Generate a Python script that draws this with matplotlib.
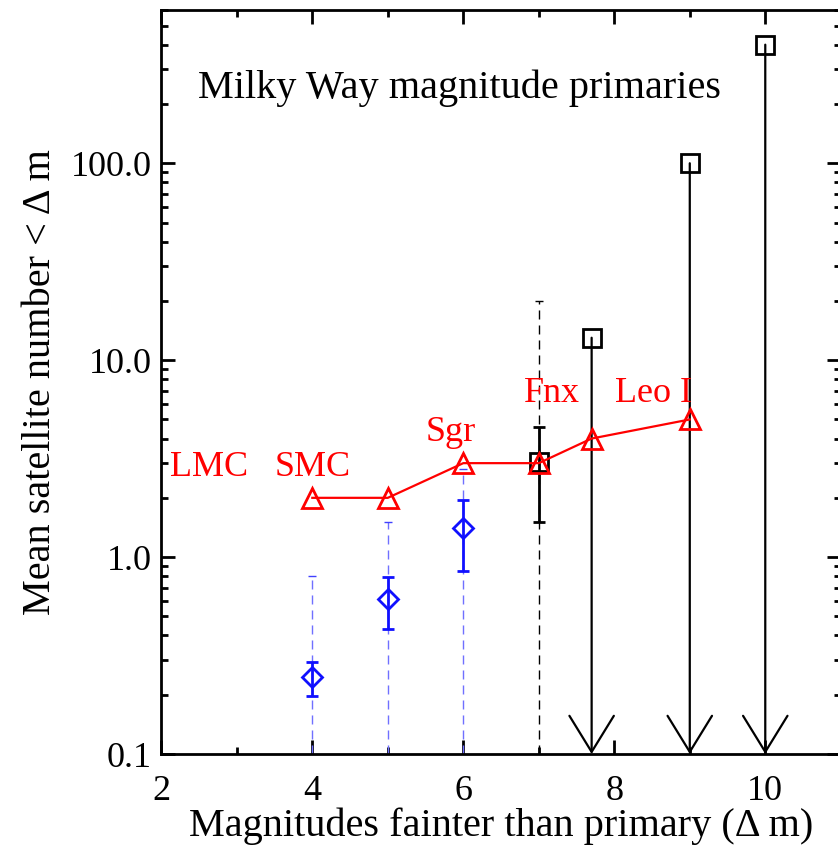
#%%
import numpy as np
import matplotlib
matplotlib.use('Agg')
import matplotlib.pyplot as plt
from matplotlib.ticker import FixedLocator, FormatStrFormatter, LogLocator, MultipleLocator, NullFormatter

plt.rcParams['font.family'] = ['Liberation Serif', 'DejaVu Serif']

#%%
# Milky Way satellites (red), cumulative counts
mw_x = [4, 5, 6, 7, 7.7, 9]
mw_y = [2, 2, 3, 3, 4, 5]

# names of satellites and where their labels sit
sat_names = ['LMC', 'SMC', 'Sgr', 'Fnx', 'Leo I']
sat_lab_x = [2.63, 4.0, 5.84, 7.17, 8.52]
sat_lab_y = [2.86, 2.86, 4.3, 6.8, 6.8]

# mean satellite numbers for MW-magnitude primaries (blue)
blue_x = [4, 5, 6]
blue_y = [0.245, 0.61, 1.4]
blue_lo = [0.197, 0.43, 0.85]
blue_hi = [0.295, 0.79, 1.96]
blue_max = [0.8, 1.5, 2.8]

# black point with error bar
blk_x = [7]
blk_y = [3.05]
blk_lo = [1.5]
blk_hi = [4.6]
blk_max = [20]

# upper limits (squares with arrows)
lim_x = [7.7, 9, 10]
lim_y = [13, 100, 400]

y_bottom = 0.1
y_top = 600

#%%
fig = plt.figure(figsize=(8.38, 8.48), dpi=100)
ax = fig.add_axes([0.1925, 0.1108, 1.0033 - 0.1925, 0.9882 - 0.1108])
ax.set_yscale('log')
ax.set_xlim(2, 11)
ax.set_ylim(y_bottom, y_top)

dash = (0, (6.5, 4.3))

# dashed ranges (blue)
ax.vlines(blue_x, y_bottom, blue_max, colors='#7070ff', linestyles=dash, lw=1.0, zorder=2)
ax.plot(blue_x, blue_max, ls='none', marker='_', ms=6, mew=1.0, color='#4040ff', zorder=2)
# dashed range (black)
ax.vlines(blk_x, y_bottom, blk_max, colors='k', linestyles=dash, lw=1.0, zorder=2)
ax.plot(blk_x, blk_max, ls='none', marker='_', ms=6, mew=1.0, color='k', zorder=2)

# blue diamonds with error bars
b_y = np.array(blue_y)
ax.errorbar(blue_x, blue_y, yerr=[b_y - np.array(blue_lo), np.array(blue_hi) - b_y],
            fmt='D', ms=10, mfc='none', mec='#1010ff', mew=2, ecolor='#1010ff',
            elinewidth=2, capsize=4.5, capthick=2, zorder=3)

# black square with error bar
k_y = np.array(blk_y)
ax.errorbar(blk_x, blk_y, yerr=[k_y - np.array(blk_lo), np.array(blk_hi) - k_y],
            fmt='s', ms=13, mfc='none', mec='k', mew=2, ecolor='k',
            elinewidth=2, capsize=4.5, capthick=2, zorder=3)

# upper limits
for xx, yy in zip(lim_x, lim_y):
    ax.annotate('', xy=(xx, y_bottom), xytext=(xx, yy),
                arrowprops=dict(arrowstyle='->,head_length=26,head_width=16',
                                mutation_scale=1, lw=1.6, color='k',
                                shrinkA=0, shrinkB=0),
                annotation_clip=False, zorder=3)
ax.plot(lim_x, lim_y, ls='none', marker='s', ms=13, mfc='none', mec='k', mew=2, zorder=4)

# Milky Way
ax.plot(mw_x, mw_y, color='red', lw=1.6, marker='^', ms=15, mfc='none', mec='red', mew=2, zorder=5)
for name, lx, ly in zip(sat_names, sat_lab_x, sat_lab_y):
    ax.text(lx, ly, name, color='red', fontsize=26, ha='center', va='center')

ax.text(0.054, 0.895, 'Milky Way magnitude primaries', transform=ax.transAxes,
        fontsize=29, ha='left', va='center')

#%%
# ticks, IDL style
ax.yaxis.set_major_locator(FixedLocator([0.1, 1, 10, 100]))
ax.yaxis.set_major_formatter(FormatStrFormatter('%.1f'))
ax.yaxis.set_minor_locator(LogLocator(base=10, subs=np.arange(2, 10)))
ax.yaxis.set_minor_formatter(NullFormatter())
ax.xaxis.set_major_locator(MultipleLocator(2))
ax.xaxis.set_minor_locator(MultipleLocator(1))

ax.tick_params(which='both', direction='in', top=True, right=True, width=2, labelsize=26)
ax.tick_params(which='major', length=10)
ax.tick_params(which='minor', length=5)
ax.tick_params(axis='x', pad=15)
ax.tick_params(axis='y', pad=7)
for s in ax.spines.values():
    s.set_linewidth(2)

ax.set_xlabel('Magnitudes fainter than primary (Δ m)', fontsize=29, labelpad=0)
ax.set_ylabel('Mean satellite number < Δ m', fontsize=29, labelpad=8)

fig.savefig('out.png', dpi=100)
